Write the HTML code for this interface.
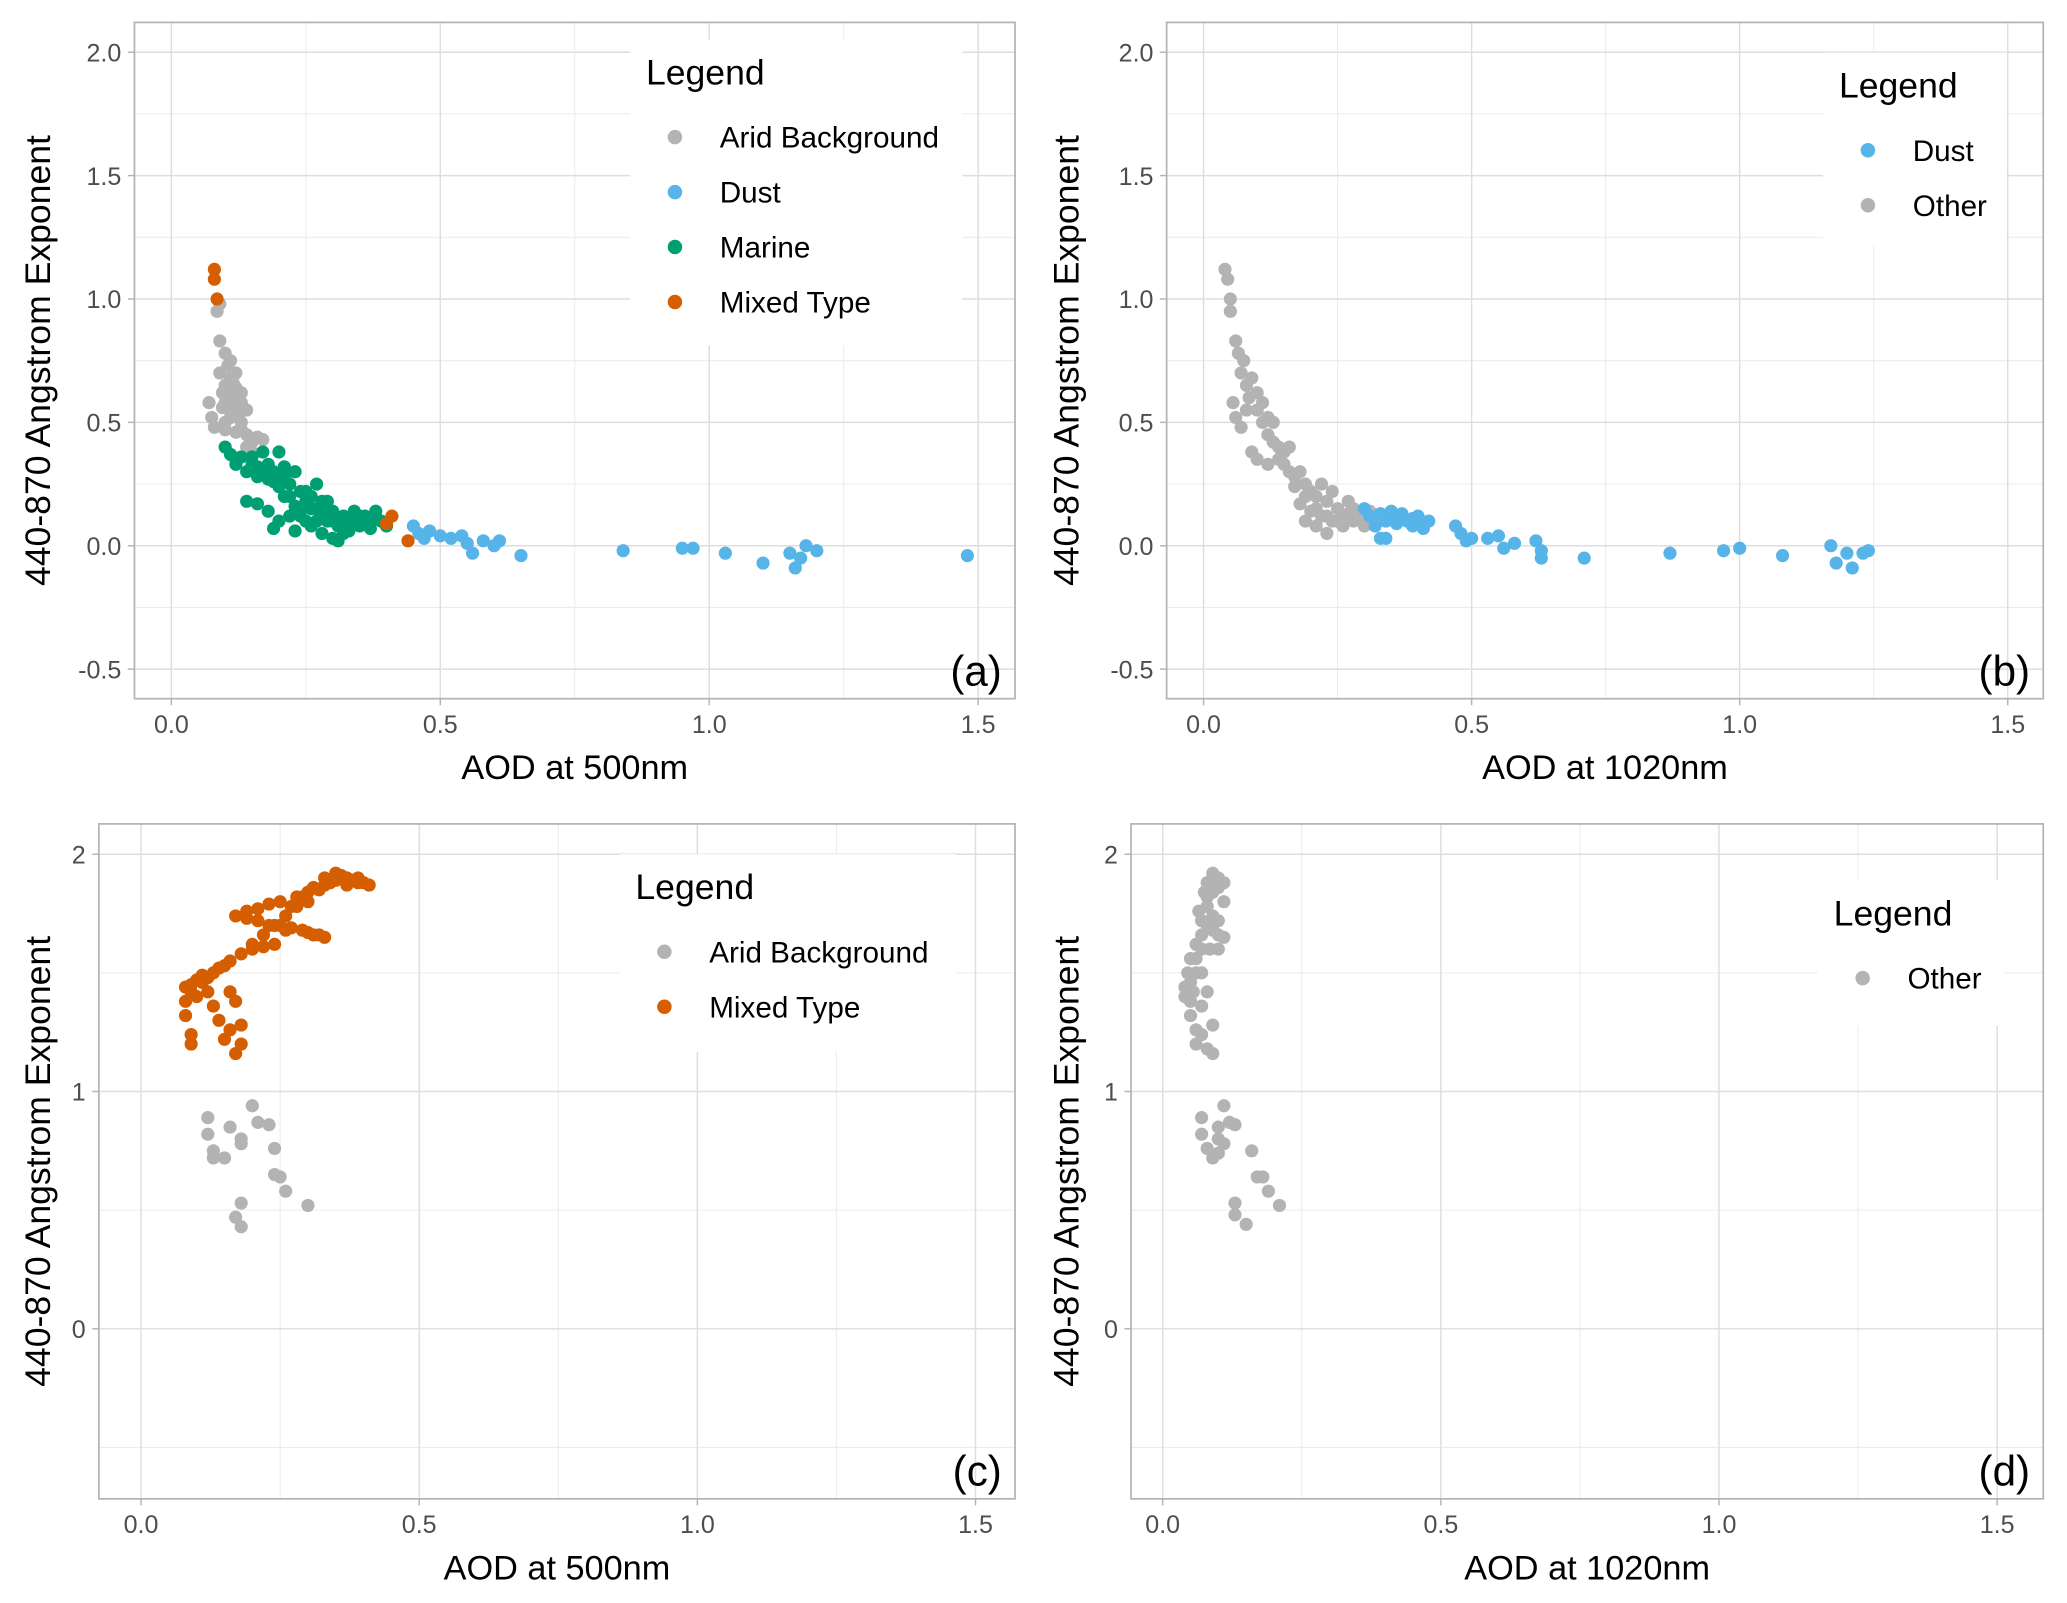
<!DOCTYPE html>
<html><head><meta charset="utf-8"><style>
html,body{margin:0;padding:0;background:#fff}
svg{display:block}
text{font-family:"Liberation Sans",Arial,sans-serif}
</style></head><body>
<svg id="chart" width="2067" height="1603" viewBox="0 0 1568 1216" xmlns="http://www.w3.org/2000/svg"></svg>
<script>
const COLORS={"Arid Background":"#B3B3B3","Dust":"#56B4E9","Marine":"#009E73","Mixed Type":"#D55E00","Other":"#B3B3B3"};
const xTicks=[0.0,0.5,1.0,1.5];
const xTickLabelsAB=["0.0","0.5","1.0","1.5"];
const yTicksAB=[2.0,1.5,1.0,0.5,0.0,-0.5];
const yTickLabelsAB=["2.0","1.5","1.0","0.5","0.0","-0.5"];
const yTicksCD=[2,1,0];
const yTickLabelsCD=["2","1","0"];

const aMixed=[[0.08,1.12],[0.08,1.08],[0.085,1.0],[0.41,0.12],[0.44,0.02],[0.40,0.09]];
const aArid=[[0.07,0.58],[0.075,0.52],[0.08,0.48],[0.085,0.95],[0.09,0.83],[0.09,0.7],[0.095,0.62],[0.095,0.56],[0.1,0.78],[0.1,0.65],[0.1,0.5],[0.105,0.73],[0.11,0.68],[0.11,0.6],[0.115,0.55],[0.12,0.7],[0.12,0.64],[0.125,0.58],[0.13,0.5],[0.13,0.47],[0.14,0.45],[0.15,0.42],[0.16,0.44],[0.17,0.43],[0.12,0.46],[0.1,0.47],[0.13,0.62],[0.14,0.55],[0.09,0.98],[0.11,0.75],[0.105,0.62],[0.115,0.66],[0.125,0.52],[0.12,0.56],[0.11,0.52],[0.1,0.58],[0.13,0.58],[0.15,0.38],[0.14,0.4]];
const aMarine=[[0.1,0.4],[0.11,0.37],[0.12,0.35],[0.13,0.36],[0.14,0.3],[0.15,0.33],[0.16,0.32],[0.17,0.3],[0.18,0.27],[0.19,0.3],[0.2,0.28],[0.2,0.38],[0.21,0.32],[0.21,0.2],[0.22,0.25],[0.22,0.12],[0.23,0.3],[0.24,0.22],[0.24,0.15],[0.25,0.18],[0.25,0.1],[0.26,0.2],[0.26,0.08],[0.27,0.15],[0.27,0.25],[0.28,0.12],[0.28,0.05],[0.29,0.18],[0.29,0.1],[0.3,0.14],[0.3,0.03],[0.31,0.08],[0.32,0.12],[0.32,0.05],[0.33,0.1],[0.34,0.14],[0.35,0.08],[0.36,0.12],[0.37,0.1],[0.38,0.14],[0.39,0.1],[0.4,0.08],[0.14,0.18],[0.16,0.17],[0.18,0.14],[0.19,0.07],[0.2,0.1],[0.17,0.38],[0.23,0.06],[0.31,0.02],[0.37,0.07],[0.18,0.33],[0.19,0.26],[0.2,0.24],[0.21,0.28],[0.22,0.2],[0.23,0.16],[0.24,0.12],[0.25,0.22],[0.26,0.15],[0.27,0.1],[0.28,0.18],[0.29,0.14],[0.3,0.1],[0.33,0.06],[0.35,0.12],[0.16,0.28],[0.15,0.36],[0.12,0.33]];
const aDust=[[0.45,0.08],[0.46,0.05],[0.47,0.03],[0.48,0.06],[0.5,0.04],[0.52,0.03],[0.54,0.04],[0.55,0.01],[0.56,-0.03],[0.58,0.02],[0.6,0.0],[0.61,0.02],[0.65,-0.04],[0.84,-0.02],[0.95,-0.01],[0.97,-0.01],[1.03,-0.03],[1.1,-0.07],[1.15,-0.03],[1.16,-0.09],[1.17,-0.05],[1.18,0.0],[1.2,-0.02],[1.48,-0.04]];

const bDust=[[0.3,0.15],[0.31,0.12],[0.32,0.08],[0.33,0.03],[0.34,0.1],[0.35,0.14],[0.36,0.12],[0.37,0.13],[0.38,0.1],[0.39,0.08],[0.4,0.12],[0.41,0.09],[0.42,0.1],[0.34,0.03],[0.47,0.08],[0.48,0.05],[0.49,0.02],[0.5,0.03],[0.53,0.03],[0.55,0.04],[0.56,-0.01],[0.58,0.01],[0.62,0.02],[0.63,-0.02],[0.63,-0.05],[0.71,-0.05],[0.87,-0.03],[0.97,-0.02],[1.0,-0.01],[1.08,-0.04],[1.17,0.0],[1.18,-0.07],[1.2,-0.03],[1.21,-0.09],[1.23,-0.03],[1.24,-0.02],[0.33,0.13],[0.36,0.09],[0.39,0.11],[0.41,0.07]];
const bOther=[[0.04,1.12],[0.045,1.08],[0.05,1.0],[0.05,0.95],[0.055,0.58],[0.06,0.83],[0.06,0.52],[0.065,0.78],[0.07,0.7],[0.07,0.48],[0.075,0.75],[0.08,0.65],[0.08,0.55],[0.085,0.6],[0.09,0.68],[0.09,0.38],[0.1,0.55],[0.1,0.35],[0.11,0.5],[0.12,0.45],[0.12,0.33],[0.13,0.42],[0.14,0.35],[0.15,0.38],[0.16,0.3],[0.17,0.28],[0.18,0.3],[0.18,0.17],[0.19,0.25],[0.2,0.22],[0.2,0.14],[0.21,0.2],[0.21,0.08],[0.22,0.25],[0.22,0.12],[0.23,0.18],[0.24,0.1],[0.24,0.22],[0.25,0.15],[0.26,0.12],[0.26,0.08],[0.27,0.18],[0.28,0.1],[0.28,0.15],[0.29,0.12],[0.3,0.08],[0.31,0.14],[0.32,0.1],[0.13,0.5],[0.16,0.4],[0.19,0.1],[0.23,0.05],[0.1,0.62],[0.11,0.58],[0.12,0.52],[0.14,0.4],[0.15,0.33],[0.17,0.24],[0.19,0.2],[0.21,0.15],[0.23,0.12],[0.25,0.1],[0.27,0.13]];

const cMixed=[[0.08,1.44],[0.09,1.45],[0.1,1.47],[0.11,1.46],[0.12,1.48],[0.13,1.5],[0.14,1.52],[0.15,1.53],[0.16,1.55],[0.18,1.58],[0.2,1.62],[0.22,1.66],[0.24,1.7],[0.26,1.74],[0.27,1.78],[0.29,1.82],[0.31,1.86],[0.33,1.9],[0.35,1.92],[0.36,1.91],[0.37,1.9],[0.38,1.89],[0.39,1.88],[0.4,1.88],[0.41,1.87],[0.34,1.88],[0.32,1.85],[0.3,1.84],[0.28,1.82],[0.25,1.8],[0.23,1.79],[0.21,1.77],[0.19,1.76],[0.17,1.74],[0.2,1.6],[0.22,1.61],[0.24,1.62],[0.23,1.7],[0.25,1.7],[0.27,1.69],[0.29,1.68],[0.3,1.67],[0.31,1.66],[0.32,1.66],[0.33,1.65],[0.21,1.72],[0.19,1.73],[0.08,1.38],[0.08,1.32],[0.09,1.24],[0.09,1.2],[0.12,1.42],[0.13,1.36],[0.14,1.3],[0.15,1.22],[0.16,1.42],[0.16,1.26],[0.17,1.38],[0.17,1.16],[0.18,1.28],[0.18,1.2],[0.1,1.4],[0.35,1.89],[0.37,1.87],[0.39,1.9],[0.33,1.87],[0.3,1.8],[0.28,1.78],[0.26,1.68],[0.11,1.49],[0.09,1.42]];
const cArid=[[0.12,0.89],[0.12,0.82],[0.13,0.75],[0.13,0.72],[0.15,0.72],[0.16,0.85],[0.17,0.47],[0.18,0.8],[0.18,0.78],[0.18,0.53],[0.18,0.43],[0.2,0.94],[0.21,0.87],[0.23,0.86],[0.24,0.76],[0.24,0.65],[0.25,0.64],[0.26,0.58],[0.3,0.52]];

const dOther=[[0.04,1.44],[0.04,1.4],[0.05,1.46],[0.05,1.38],[0.05,1.32],[0.06,1.5],[0.06,1.56],[0.06,1.26],[0.06,1.2],[0.07,1.6],[0.07,1.66],[0.07,1.72],[0.07,1.24],[0.07,1.36],[0.08,1.78],[0.08,1.7],[0.08,1.82],[0.08,1.88],[0.08,1.42],[0.08,1.18],[0.09,1.9],[0.09,1.92],[0.09,1.84],[0.09,1.74],[0.09,1.68],[0.09,1.28],[0.09,1.16],[0.1,1.9],[0.1,1.86],[0.1,1.66],[0.1,1.72],[0.1,1.6],[0.11,1.88],[0.11,1.8],[0.11,1.65],[0.05,1.56],[0.06,1.62],[0.07,1.5],[0.07,0.89],[0.07,0.82],[0.08,0.76],[0.09,0.72],[0.1,0.8],[0.1,0.85],[0.11,0.94],[0.11,0.78],[0.12,0.87],[0.13,0.86],[0.13,0.53],[0.13,0.48],[0.15,0.44],[0.16,0.75],[0.17,0.64],[0.18,0.64],[0.19,0.58],[0.21,0.52],[0.1,0.74],[0.065,1.76],[0.075,1.84],[0.085,1.6],[0.045,1.5],[0.055,1.42]];

const NS="http://www.w3.org/2000/svg";
const svg=document.getElementById('chart');
function mk(tag,attrs,parent,txt){const e=document.createElementNS(NS,tag);for(const k in attrs)e.setAttribute(k,attrs[k]);if(txt!==undefined)e.textContent=txt;(parent||svg).appendChild(e);return e;}

function panel(cfg){
  const g=mk('g',{});
  
  
  const sx=v=>cfg.x0+v*cfg.kx, sy=v=>cfg.y0-v*cfg.ky;
  const L=cfg.left,R=cfg.right,T=cfg.top,B=cfg.bottom;
  mk('rect',{x:L,y:T,width:R-L,height:B-T,fill:'#fff'},g);
  for(let i=0;i<xTicks.length;i++){const v=xTicks[i]+0.25; const px=sx(v); if(px>L&&px<R){mk('line',{x1:px,x2:px,y1:T,y2:B,stroke:'#ececec','stroke-width':0.8},g);}}
  const ys=cfg.yTicks;
  const step=ys[0]-ys[1];
  for(let i=0;i<ys.length;i++){const py=sy(ys[i]-step/2); if(py>T&&py<B) mk('line',{x1:L,x2:R,y1:py,y2:py,stroke:'#ececec','stroke-width':0.8},g);}
  {const py=sy(ys[0]+step/2); if(py>T&&py<B) mk('line',{x1:L,x2:R,y1:py,y2:py,stroke:'#ececec','stroke-width':0.8},g);}
  xTicks.forEach((v,i)=>{const px=sx(v);
    mk('line',{x1:px,x2:px,y1:T,y2:B,stroke:'#dedede','stroke-width':1.1},g);
    mk('line',{x1:px,x2:px,y1:B,y2:B+5,stroke:'#b3b3b3','stroke-width':1.1},g);
    const t=mk('text',{x:px,y:B+26,'text-anchor':'middle','font-size':19,fill:'#4d4d4d'},g,cfg.xLabels[i]);
    
    
  });
  ys.forEach((v,i)=>{const py=sy(v);
    mk('line',{x1:L,x2:R,y1:py,y2:py,stroke:'#dedede','stroke-width':1.1},g);
    mk('line',{x1:L-5,x2:L,y1:py,y2:py,stroke:'#b3b3b3','stroke-width':1.1},g);
    const t=mk('text',{x:L-10,y:py+7,'text-anchor':'end','font-size':19,fill:'#4d4d4d'},g,cfg.yLabels[i]);
    
    
  });
  cfg.series.forEach(s=>{
    s.data.forEach(p=>{
      const c=mk('circle',{cx:sx(p[0]),cy:sy(p[1]),r:5,fill:COLORS[s.name]},g);
      
      
    });
  });
  mk('rect',{x:L,y:T,width:R-L,height:B-T,fill:'none',stroke:'#b3b3b3','stroke-width':1.3},g);
  const xt=mk('text',{x:(L+R)/2,y:B+61,'text-anchor':'middle','font-size':26,fill:'#000'},g,cfg.xTitle);
  
  
  const yt=mk('text',{x:0,y:0,'text-anchor':'middle','font-size':27,fill:'#000',transform:`translate(${cfg.yTitleX},${(T+B)/2}) rotate(-90)`},g,'440-870 Angstrom Exponent');
  
  
  const lab=mk('text',{x:R-10,y:B-10,'text-anchor':'end','font-size':32,fill:'#000'},g,cfg.tag);
  
  
  const lg=mk('g',{},g);
  
  
  const Lc=cfg.legend;
  mk('rect',{x:Lc.x,y:Lc.y,width:Lc.w,height:Lc.h,fill:'#fff'},lg);
  mk('text',{x:Lc.x+12,y:Lc.y+34,'font-size':27,fill:'#000'},lg,'Legend');
  Lc.items.forEach((name,i)=>{
    const yy=Lc.y+74+i*41.7;
    const e=mk('g',{},lg);
    
    
    mk('circle',{cx:Lc.x+34,cy:yy,r:5.5,fill:COLORS[name]},e);
    mk('text',{x:Lc.x+68,y:yy+8,'font-size':22.5,fill:'#000'},e,name);
  });
}

panel({id:'a',tag:'(a)',left:102,right:770,top:17,bottom:530,x0:130,kx:408,y0:414,ky:187.2,yTicks:yTicksAB,yLabels:yTickLabelsAB,xLabels:xTickLabelsAB,xTitle:'AOD at 500nm',yTitleX:38,
  series:[{name:'Arid Background',data:aArid},{name:'Marine',data:aMarine},{name:'Dust',data:aDust},{name:'Mixed Type',data:aMixed}],
  legend:{x:478,y:30,w:252,h:232,items:['Arid Background','Dust','Marine','Mixed Type']}});
panel({id:'b',tag:'(b)',left:885,right:1550,top:17,bottom:530,x0:913,kx:406.7,y0:414,ky:187.2,yTicks:yTicksAB,yLabels:yTickLabelsAB,xLabels:xTickLabelsAB,xTitle:'AOD at 1020nm',yTitleX:818,
  series:[{name:'Other',data:bOther},{name:'Dust',data:bDust}],
  legend:{x:1383,y:40,w:139,h:146,items:['Dust','Other']}});
panel({id:'c',tag:'(c)',left:75,right:770,top:625,bottom:1137,x0:107,kx:422,y0:1008,ky:180,yTicks:yTicksCD,yLabels:yTickLabelsCD,xLabels:xTickLabelsAB,xTitle:'AOD at 500nm',yTitleX:38,
  series:[{name:'Arid Background',data:cArid},{name:'Mixed Type',data:cMixed}],
  legend:{x:470,y:648,w:255,h:150,items:['Arid Background','Mixed Type']}});
panel({id:'d',tag:'(d)',left:858,right:1550,top:625,bottom:1137,x0:882,kx:422,y0:1008,ky:180,yTicks:yTicksCD,yLabels:yTickLabelsCD,xLabels:xTickLabelsAB,xTitle:'AOD at 1020nm',yTitleX:818,
  series:[{name:'Other',data:dOther}],
  legend:{x:1379,y:668,w:141,h:110,items:['Other']}});
</script>
</body></html>
